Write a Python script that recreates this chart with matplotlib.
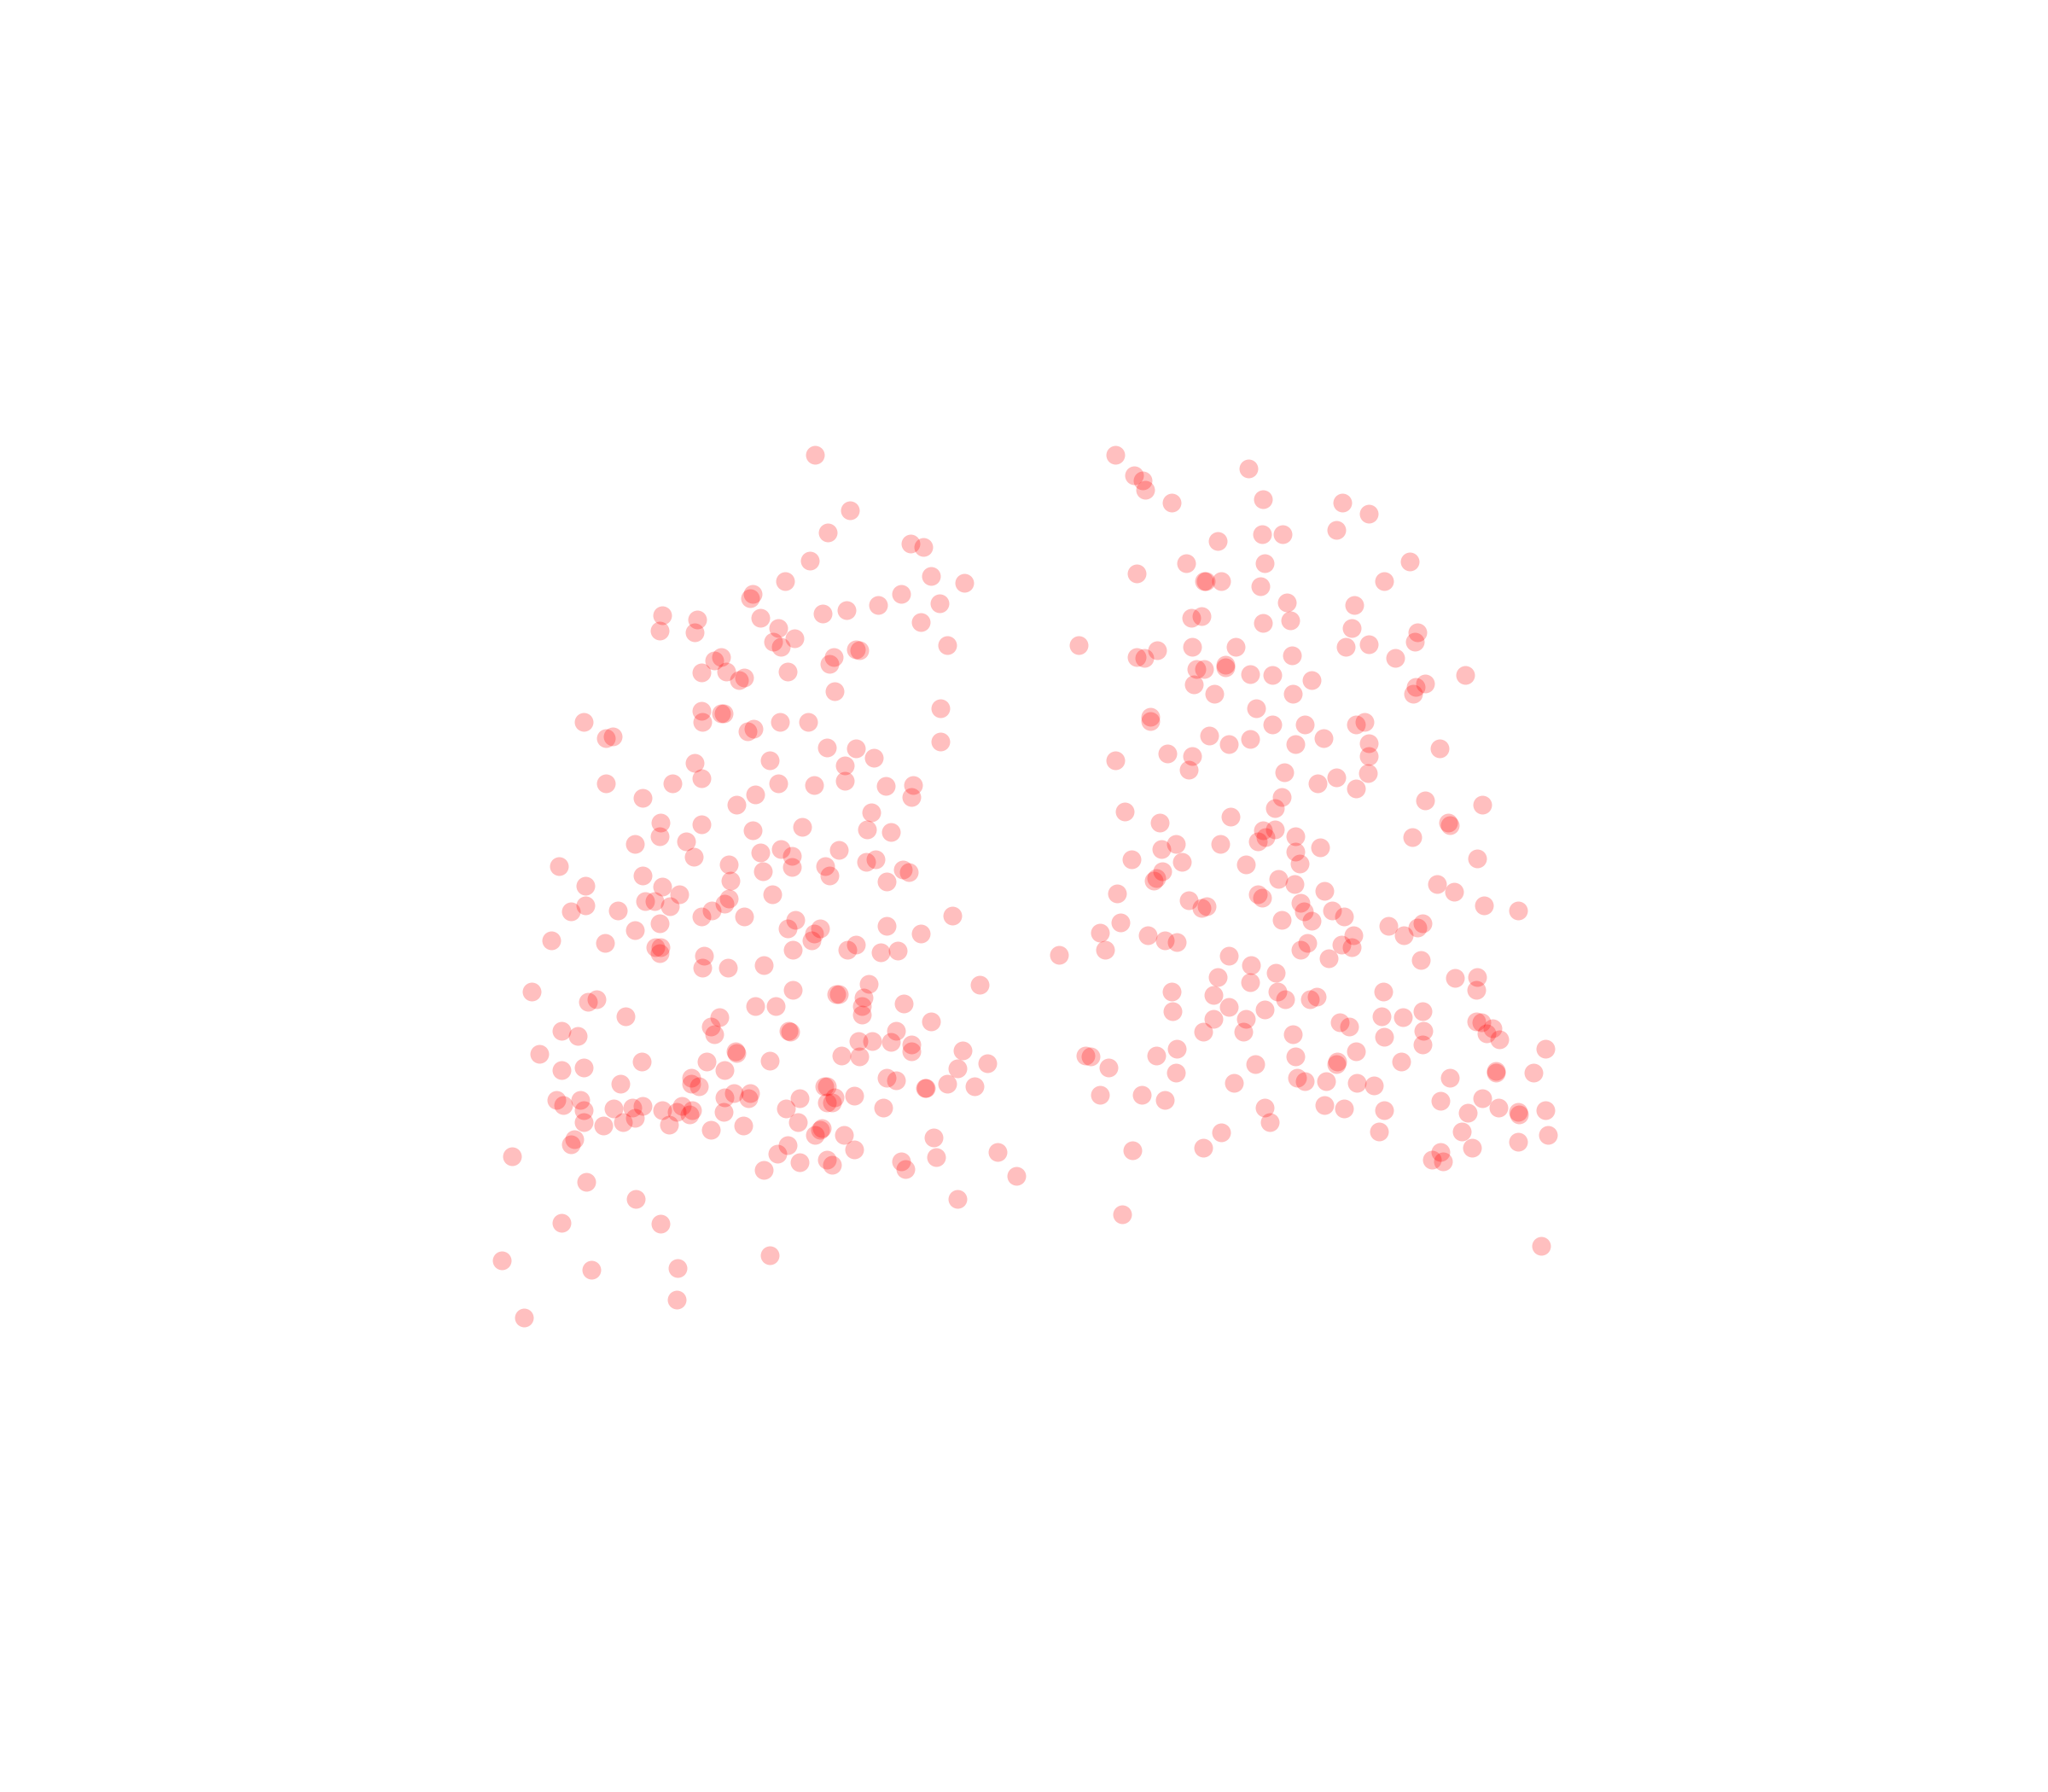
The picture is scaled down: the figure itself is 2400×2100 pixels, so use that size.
import matplotlib
matplotlib.use('Agg')
import matplotlib.pyplot as plt

# valores (cada grupo separado)
left_x = [624,651,634,697,707,620,713,738,601,576,574,690,719,672,648,630,507,534,582,705,596,505,532,608,592,598,725,655,658,638,635,552,547,556,537,603,570,566,639,537,552,554,720,538,447,597,619,577,572,464,469,720,633,655,669,532,589,647,537,464,515,596,623,647,678,699,492,578,698,564,667,506,537,576,614,664,682,505,525,486,598,582,606,642,531,670,663,428,558,632,584,606,691,696,492,635,559,679,448,507,520,591,558,555,494,501,513,448,437,473,545,537,570,609,729,505,486,603,628,623,679,705,422,463,621,655,649,607,674,687,502,506,505,539,538,557,585,750,665,407,607,640,642,661,457,450,660,692,578,594,660,479,551,713,544,430,547,442,604,605,686,657,668,682,698,563,564,737,413,698,644,658,589,541,491,756,447,555,430,733,529,475,529,535,679,686,708,709,725,746,631,633,562,574,573,555,612,639,654,426,444,431,633,637,492,484,470,522,507,518,530,528,602,554,676,447,486,477,447,462,512,569,611,544,629,628,624,646,440,437,715,603,654,595,392,764,717,612,633,637,690,693,585,778,449,487,733,506,430,384,589,453,519,518,401]
left_y = [348,391,408,416,419,429,441,446,445,455,458,455,462,463,467,470,471,474,473,476,481,483,484,489,491,495,494,497,498,503,508,503,506,514,515,514,519,521,529,544,546,546,542,553,553,553,553,558,560,565,564,568,572,573,580,584,582,586,596,600,600,600,601,598,602,601,611,608,610,616,622,630,631,636,633,635,637,640,644,646,650,653,655,651,656,658,660,663,662,663,667,664,666,668,670,670,674,675,678,679,685,685,688,692,690,690,694,693,698,697,697,702,702,704,701,707,712,711,711,715,709,715,720,722,720,723,727,727,729,728,725,725,730,732,741,741,739,754,753,759,758,761,761,764,765,767,770,768,770,770,777,778,779,782,786,789,792,793,789,790,789,797,797,798,800,805,806,804,807,805,808,809,812,813,813,814,817,819,819,818,825,830,830,832,825,827,833,833,830,832,832,832,837,837,841,840,841,840,839,842,842,846,844,844,847,848,849,847,850,851,850,853,849,851,848,850,856,859,859,862,861,862,859,865,864,865,869,869,872,876,871,877,880,883,885,882,886,890,888,892,889,895,896,900,905,918,918,937,936,965,961,972,971,995,1009]

right_x = [854,956,868,875,877,967,897,1028,1048,1023,966,982,932,908,968,1079,870,922,923,935,1060,965,985,1037,912,920,967,988,1035,1085,1083,826,946,913,886,1030,1048,870,876,989,1068,916,922,938,938,957,974,1122,1004,914,1091,1084,1082,930,990,962,881,881,1045,1038,999,974,926,1013,957,941,992,1048,1102,894,913,1048,854,910,983,1047,1023,1009,1038,981,1091,1135,976,861,942,888,1109,1110,967,976,1081,992,969,963,900,934,1011,889,992,1131,866,905,995,954,890,885,883,979,991,1100,1014,1113,855,963,966,910,996,1136,920,924,1020,998,1162,1029,858,981,1004,1089,1085,1063,842,879,1075,1036,892,901,1001,1027,1035,846,996,811,941,1017,1088,958,977,932,1114,1131,957,1130,897,1059,978,929,984,1003,1008,941,968,898,1058,1089,1074,929,954,1026,1033,1130,1134,1143,1138,921,952,1090,990,1060,1148,1089,1183,901,1038,831,835,885,992,1024,1023,1073,961,849,900,1145,1145,1174,993,999,1015,945,1039,1052,1110,842,874,892,1135,1103,1014,968,1029,1060,1147,1162,1163,1183,1124,972,935,1056,1119,1185,1162,867,921,1127,1103,1096,1105,859,1180]
right_y = [348,359,364,368,375,382,385,385,393,406,409,409,414,431,431,430,439,445,445,445,445,449,461,463,473,472,477,475,481,484,491,494,495,495,498,495,493,503,504,502,504,512,512,509,511,516,517,517,521,524,523,526,531,531,531,542,549,552,553,555,555,555,563,565,566,570,570,569,573,577,579,579,582,589,591,592,595,600,604,610,613,616,619,621,625,630,630,632,636,635,641,640,641,644,646,646,649,650,652,657,658,660,661,662,667,672,674,673,677,677,682,683,684,685,687,689,691,693,695,694,697,698,697,702,706,704,705,707,710,709,714,716,716,716,720,721,722,723,725,727,727,731,732,734,735,739,745,748,749,748,752,758,759,759,759,762,765,765,763,771,773,774,778,774,779,780,780,783,786,782,783,787,791,790,790,789,792,794,796,800,803,803,805,808,809,808,809,813,815,813,815,817,821,820,821,821,825,828,828,829,829,831,825,838,838,842,841,843,846,848,849,850,848,851,853,850,852,859,867,866,866,869,874,881,879,879,882,888,889,930,954]

fig = plt.figure(figsize=(24, 21), dpi=100)
ax = fig.add_axes([0, 0, 1, 1])

ax.scatter(left_x, left_y, s=250, color='red', alpha=0.25, linewidths=0)
ax.scatter(right_x, right_y, s=250, color='red', alpha=0.25, linewidths=0)

ax.set_xlim(0, 1568)
ax.set_ylim(1372, 0)
ax.axis('off')

fig.savefig('out.png')
